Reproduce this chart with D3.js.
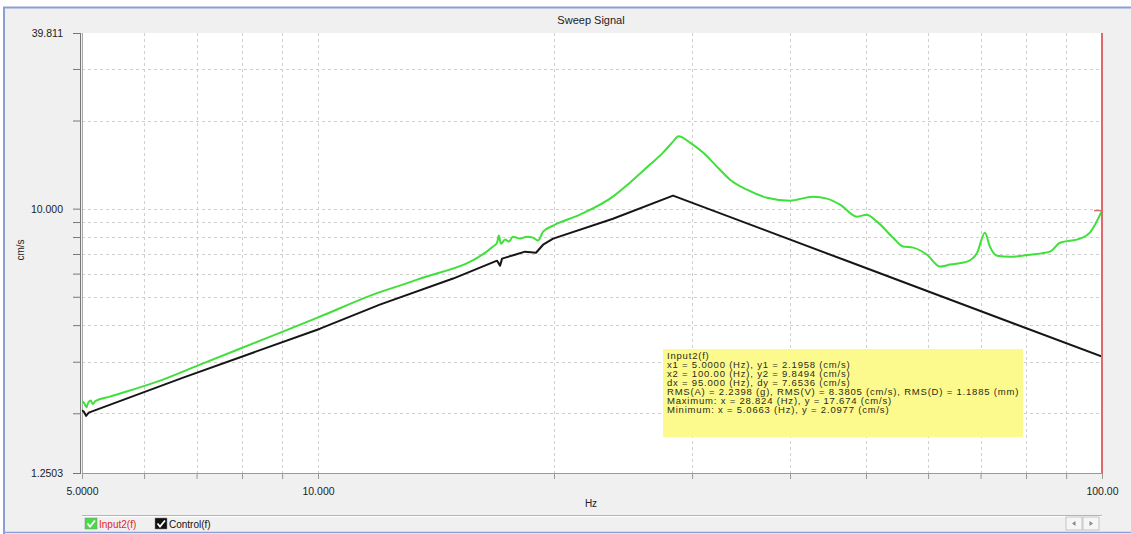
<!DOCTYPE html>
<html><head><meta charset="utf-8">
<script src="https://cdn.jsdelivr.net/npm/d3@7"></script>
<style>
html,body{margin:0;padding:0;background:#fff;}
svg{display:block;font-family:"Liberation Sans",Arial,sans-serif;}
</style></head><body>
<svg id="chart" width="1131" height="534"></svg>
<script>
// Control(f) reference profile: frequency (Hz) and velocity (cm/s)
const controlFreq = [5.00, 5.03, 5.06, 5.10, 6.73, 10.06, 11.99, 14.87, 16.92, 17.07, 17.17, 17.83, 18.37, 18.97, 19.37, 19.95, 23.78, 28.37, 47.7, 100];
const controlVel  = [2.05, 2.02, 1.96, 2.01, 2.647, 3.89, 4.70, 5.77, 6.643, 6.388, 6.75, 6.96, 7.13, 7.07, 7.53, 7.90, 9.24, 11.08, 6.57, 3.123];

// Input2(f) measured response
const inputFreq = [5.000, 5.03, 5.066, 5.09, 5.13, 5.16, 5.20, 5.43, 6.34, 7.07, 8.50, 10.06, 11.75, 13.38, 16.72, 16.92, 17.01, 17.11, 17.32, 17.52, 17.73, 18.10, 18.48, 18.80, 19.08, 19.37, 19.95, 21.59, 23.78, 25.0, 26.51, 27.55, 28.37, 28.824, 29.82, 30.98, 32.28, 33.54, 35.25, 37.38, 40.0, 42.78, 44.59, 46.33, 48.70, 50.07, 51.65, 54.13, 55.76, 57.41, 59.81, 62.15, 64.0, 67.26, 69.3, 70.9, 71.95, 73.45, 76.3, 80.9, 85.8, 88.4, 93.75, 96.5, 100];
const inputVel  = [2.1958, 2.17, 2.0977, 2.17, 2.21, 2.15, 2.20, 2.28, 2.606, 2.931, 3.57, 4.276, 5.085, 5.72, 7.42, 7.65, 8.09, 7.59, 7.84, 7.72, 8.02, 7.90, 8.02, 7.96, 7.78, 8.35, 8.75, 9.54, 10.99, 12.27, 14.14, 15.54, 16.94, 17.674, 16.81, 15.54, 13.91, 12.56, 11.61, 10.90, 10.65, 10.99, 10.82, 10.32, 9.39, 9.54, 9.03, 7.96, 7.42, 7.36, 6.96, 6.34, 6.44, 6.59, 7.07, 8.28, 7.42, 6.91, 6.85, 6.96, 7.13, 7.65, 7.90, 8.28, 9.8494];

// Axis ranges, grid values and labels
const xDomain = [5, 100];
const yDomain = [1.2503, 39.811];
const xTickValues = [5, 10, 100];
const xTickLabels = ["5.0000", "10.000", "100.00"];
const yTickValues = [1.2503, 10, 39.811];
const yTickLabels = ["1.2503", "10.000", "39.811"];
const xMinor = [6, 7, 8, 9, 20, 30, 40, 50, 60, 70, 80, 90];
const yMinor = [2, 3, 4, 5, 6, 7, 8, 9, 20, 30];
const cursorValue = 9.8494;

const readoutLines = [
  "Input2(f)",
  "x1 = 5.0000 (Hz), y1 = 2.1958 (cm/s)",
  "x2 = 100.00 (Hz), y2 = 9.8494 (cm/s)",
  "dx = 95.000 (Hz), dy = 7.6536 (cm/s)",
  "RMS(A) = 2.2398 (g), RMS(V) = 8.3805 (cm/s), RMS(D) = 1.1885 (mm)",
  "Maximum: x = 28.824 (Hz), y = 17.674 (cm/s)",
  "Minimum: x = 5.0663 (Hz), y = 2.0977 (cm/s)"
];

const svg = d3.select("#chart");
const L = 82, R = 1102, T = 33, B = 473;

const x = d3.scaleLog().domain(xDomain).range([L, R]);
const y = d3.scaleLog().domain(yDomain).range([B, T]);

// window panel
svg.append("rect").attr("x", 4).attr("y", 7).attr("width", 1127).attr("height", 526).attr("fill", "#f0f0f0");
svg.append("line").attr("x1", 3).attr("x2", 1131).attr("y1", 7.5).attr("y2", 7.5).attr("stroke", "#8b9fd6").attr("stroke-width", 2);
svg.append("line").attr("x1", 4).attr("x2", 4).attr("y1", 7).attr("y2", 534).attr("stroke", "#8b9fd6").attr("stroke-width", 2);
svg.append("line").attr("x1", 3).attr("x2", 1131).attr("y1", 532.5).attr("y2", 532.5).attr("stroke", "#8b9fd6").attr("stroke-width", 1.5);

// title
svg.append("text").attr("x", 591).attr("y", 24).attr("text-anchor", "middle")
  .attr("font-size", 11).attr("fill", "#222").text("Sweep Signal");

// plot area
svg.append("rect").attr("x", L).attr("y", T).attr("width", R - L).attr("height", B - T).attr("fill", "#fff");

// grid
const grid = svg.append("g").attr("stroke", "#cfcfcf").attr("stroke-width", 1).attr("stroke-dasharray", "3,3");
grid.selectAll("line.gx").data(xMinor.concat([10])).join("line")
  .attr("x1", d => Math.round(x(d)) + 0.5).attr("x2", d => Math.round(x(d)) + 0.5)
  .attr("y1", T).attr("y2", B);
grid.selectAll("line.gy").data(yMinor.concat([10])).join("line")
  .attr("y1", d => Math.round(y(d)) + 0.5).attr("y2", d => Math.round(y(d)) + 0.5)
  .attr("x1", L).attr("x2", R);

// left axis
const yLabelMap = new Map(yTickValues.map((v, i) => [v, yTickLabels[i]]));
const yAxis = d3.axisLeft(y)
  .tickValues(yTickValues.concat(yMinor))
  .tickSize(8).tickPadding(10)
  .tickFormat(d => yLabelMap.get(d) || "");
const gy = svg.append("g").attr("transform", `translate(${L - 1},0)`).call(yAxis);
gy.select(".domain").remove();
gy.selectAll(".tick line").attr("stroke", "#777");
gy.selectAll(".tick text").attr("font-size", 10.5).attr("fill", "#222")
  .attr("font-family", "Liberation Sans, Arial, sans-serif");

svg.append("line").attr("x1", L - 1.5).attr("x2", L - 1.5).attr("y1", T).attr("y2", B + 1).attr("stroke", "#777").attr("stroke-width", 1);
svg.append("line").attr("x1", L + 0.5).attr("x2", L + 0.5).attr("y1", T).attr("y2", B).attr("stroke", "#aaa").attr("stroke-width", 1);

// bottom axis
const xLabelMap = new Map(xTickValues.map((v, i) => [v, xTickLabels[i]]));
const xAxis = d3.axisBottom(x)
  .tickValues(xTickValues.concat(xMinor))
  .tickSize(6).tickPadding(9)
  .tickFormat(d => xLabelMap.get(d) || "");
const gx = svg.append("g").attr("transform", `translate(0,${B})`).call(xAxis);
gx.select(".domain").attr("stroke", "#999");
gx.selectAll(".tick line").attr("stroke", "#999");
gx.selectAll(".tick text").attr("font-size", 10.5).attr("fill", "#222")
  .attr("font-family", "Liberation Sans, Arial, sans-serif");

// axis titles
svg.append("text").attr("x", 591).attr("y", 507).attr("text-anchor", "middle")
  .attr("font-size", 10).attr("fill", "#222").text("Hz");
svg.append("text").attr("transform", "translate(24,250) rotate(-90)").attr("text-anchor", "middle")
  .attr("font-size", 10).attr("fill", "#222").text("cm/s");

// curves
const clip = svg.append("clipPath").attr("id", "plotclip");
clip.append("rect").attr("x", L).attr("y", T).attr("width", R - L).attr("height", B - T);

const controlLine = d3.line().x(d => x(d[0])).y(d => y(d[1]));
const inputLine = d3.line().x(d => x(d[0])).y(d => y(d[1])).curve(d3.curveMonotoneX);
const controlData = controlFreq.map((f, i) => [f, controlVel[i]]);
const inputData = inputFreq.map((f, i) => [f, inputVel[i]]);

const curves = svg.append("g").attr("clip-path", "url(#plotclip)");
curves.append("path").datum(controlData).attr("d", controlLine)
  .attr("fill", "none").attr("stroke", "#161616").attr("stroke-width", 2).attr("stroke-linejoin", "round");
curves.append("path").datum(inputData).attr("d", inputLine)
  .attr("fill", "none").attr("stroke", "#3fe03a").attr("stroke-width", 2).attr("stroke-linejoin", "round");

// cursor at 100 Hz
svg.append("line").attr("x1", x(100)).attr("x2", x(100)).attr("y1", T).attr("y2", B)
  .attr("stroke", "#e06a6a").attr("stroke-width", 2);
svg.append("line").attr("x1", x(100) - 8).attr("x2", x(100)).attr("y1", y(cursorValue)).attr("y2", y(cursorValue))
  .attr("stroke", "#d07070").attr("stroke-width", 1.5);

// readout box
const box = svg.append("g");
box.append("rect").attr("x", 663).attr("y", 349).attr("width", 360).attr("height", 88).attr("fill", "#fcfa8c");
box.selectAll("text").data(readoutLines).join("text")
  .attr("x", 667).attr("y", (d, i) => 358.5 + i * 9)
  .attr("font-size", 9.5).attr("letter-spacing", 0.8).attr("fill", "#2b2b18").text(d => d);

// legend strip
svg.append("line").attr("x1", L).attr("x2", R).attr("y1", 515.5).attr("y2", 515.5).attr("stroke", "#b4b4b4");
svg.append("line").attr("x1", L).attr("x2", R).attr("y1", 516.5).attr("y2", 516.5).attr("stroke", "#fff");

const legendItems = [
  {label: "Input2(f)", box: "#4ad94a", text: "#e02828", x: 85},
  {label: "Control(f)", box: "#111", text: "#111", x: 155}
];
const lg = svg.selectAll("g.legend").data(legendItems).join("g").attr("class", "legend")
  .attr("transform", d => `translate(${d.x},518)`);
lg.append("rect").attr("width", 12).attr("height", 11).attr("fill", d => d.box).attr("stroke", "#888").attr("stroke-width", 0.5);
lg.append("path").attr("d", "M2.5,5.5 L5,8.5 L10,2.5").attr("fill", "none").attr("stroke", "#fff").attr("stroke-width", 1.8);
lg.append("text").attr("x", 14).attr("y", 9.5).attr("font-size", 10).attr("fill", d => d.text).text(d => d.label);

// scroll buttons
const btns = [{x: 1066, dir: -1}, {x: 1083, dir: 1}];
const bg = svg.selectAll("g.btn").data(btns).join("g").attr("class", "btn")
  .attr("transform", d => `translate(${d.x},517)`);
bg.append("rect").attr("width", 16).attr("height", 13).attr("fill", "#f6f6f6").attr("stroke", "#c4c4c4");
bg.append("path").attr("d", d => d.dir < 0 ? "M6,6.5 L9.5,4 L9.5,9 Z" : "M10,6.5 L6.5,4 L6.5,9 Z").attr("fill", "#888");
</script>
</body></html>
